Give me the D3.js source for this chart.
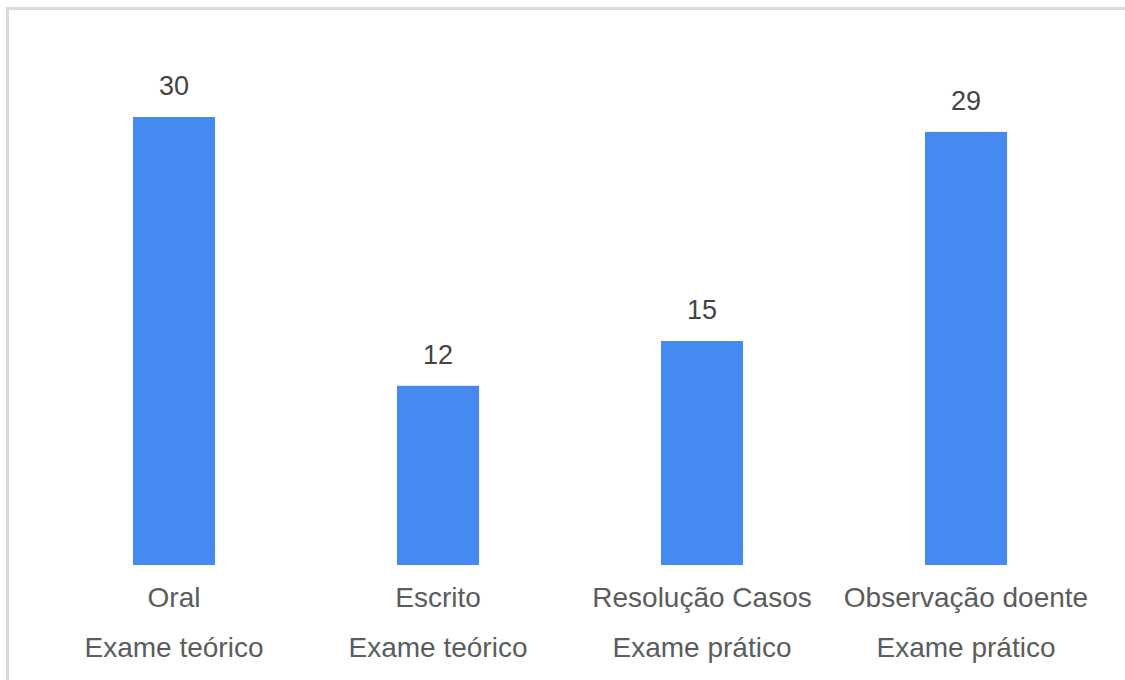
<!DOCTYPE html>
<html>
<head>
<meta charset="utf-8">
<script src="https://cdn.jsdelivr.net/npm/d3@7"></script>
<style>
  html, body { margin: 0; padding: 0; background: #fff; }
  svg { display: block; }
</style>
</head>
<body>
<div id="chart"></div>
<script>
var width = 1125, height = 680;

// data
var categories = ["Oral", "Escrito", "Resolução Casos", "Observação doente"];
var groups = ["Exame teórico", "Exame teórico", "Exame prático", "Exame prático"];
var values = [30, 12, 15, 29];

var barColor = "#4589f1";
var fontFamily = "'Liberation Sans', Arial, Helvetica, sans-serif";
var fontSize = "28px";

var svg = d3.select("#chart").append("svg")
    .attr("width", width)
    .attr("height", height);

// light frame round the chart
svg.append("rect")
    .attr("x", 7.5)
    .attr("y", 8.5)
    .attr("width", width + 20)
    .attr("height", height + 20)
    .attr("fill", "none")
    .attr("stroke", "#dadada")
    .attr("stroke-width", 3);

var x = d3.scaleBand()
    .domain(categories)
    .range([42, 1098])
    .paddingInner(0.689)
    .paddingOuter(0.3445);

var y = d3.scaleLinear()
    .domain([0, 30])
    .range([565, 117]);

var data = categories.map(function(c, i) {
  return { name: c, group: groups[i], value: values[i] };
});

svg.selectAll(".bar").data(data).enter().append("rect")
    .attr("class", "bar")
    .attr("x", function(d) { return x(d.name); })
    .attr("y", function(d) { return y(d.value); })
    .attr("width", x.bandwidth())
    .attr("height", function(d) { return y(0) - y(d.value); })
    .attr("fill", barColor);

// value labels
svg.selectAll(".value").data(data).enter().append("text")
    .attr("class", "value")
    .attr("x", function(d) { return x(d.name) + x.bandwidth() / 2; })
    .attr("y", function(d) { return y(d.value) - 22; })
    .attr("text-anchor", "middle")
    .attr("font-family", fontFamily)
    .attr("font-size", "27px")
    .attr("fill", "#444")
    .text(function(d) { return d.value; });

// category labels, two lines
var axis = svg.append("g").attr("class", "x-axis");
axis.selectAll(".cat").data(data).enter().append("text")
    .attr("class", "cat")
    .attr("x", function(d) { return x(d.name) + x.bandwidth() / 2; })
    .attr("y", 607)
    .attr("text-anchor", "middle")
    .attr("font-family", fontFamily)
    .attr("font-size", fontSize)
    .attr("fill", "#5c5c5c")
    .text(function(d) { return d.name; });

axis.selectAll(".grp").data(data).enter().append("text")
    .attr("class", "grp")
    .attr("x", function(d) { return x(d.name) + x.bandwidth() / 2; })
    .attr("y", 657)
    .attr("text-anchor", "middle")
    .attr("font-family", fontFamily)
    .attr("font-size", fontSize)
    .attr("fill", "#5c5c5c")
    .text(function(d) { return d.group; });
</script>
</body>
</html>
